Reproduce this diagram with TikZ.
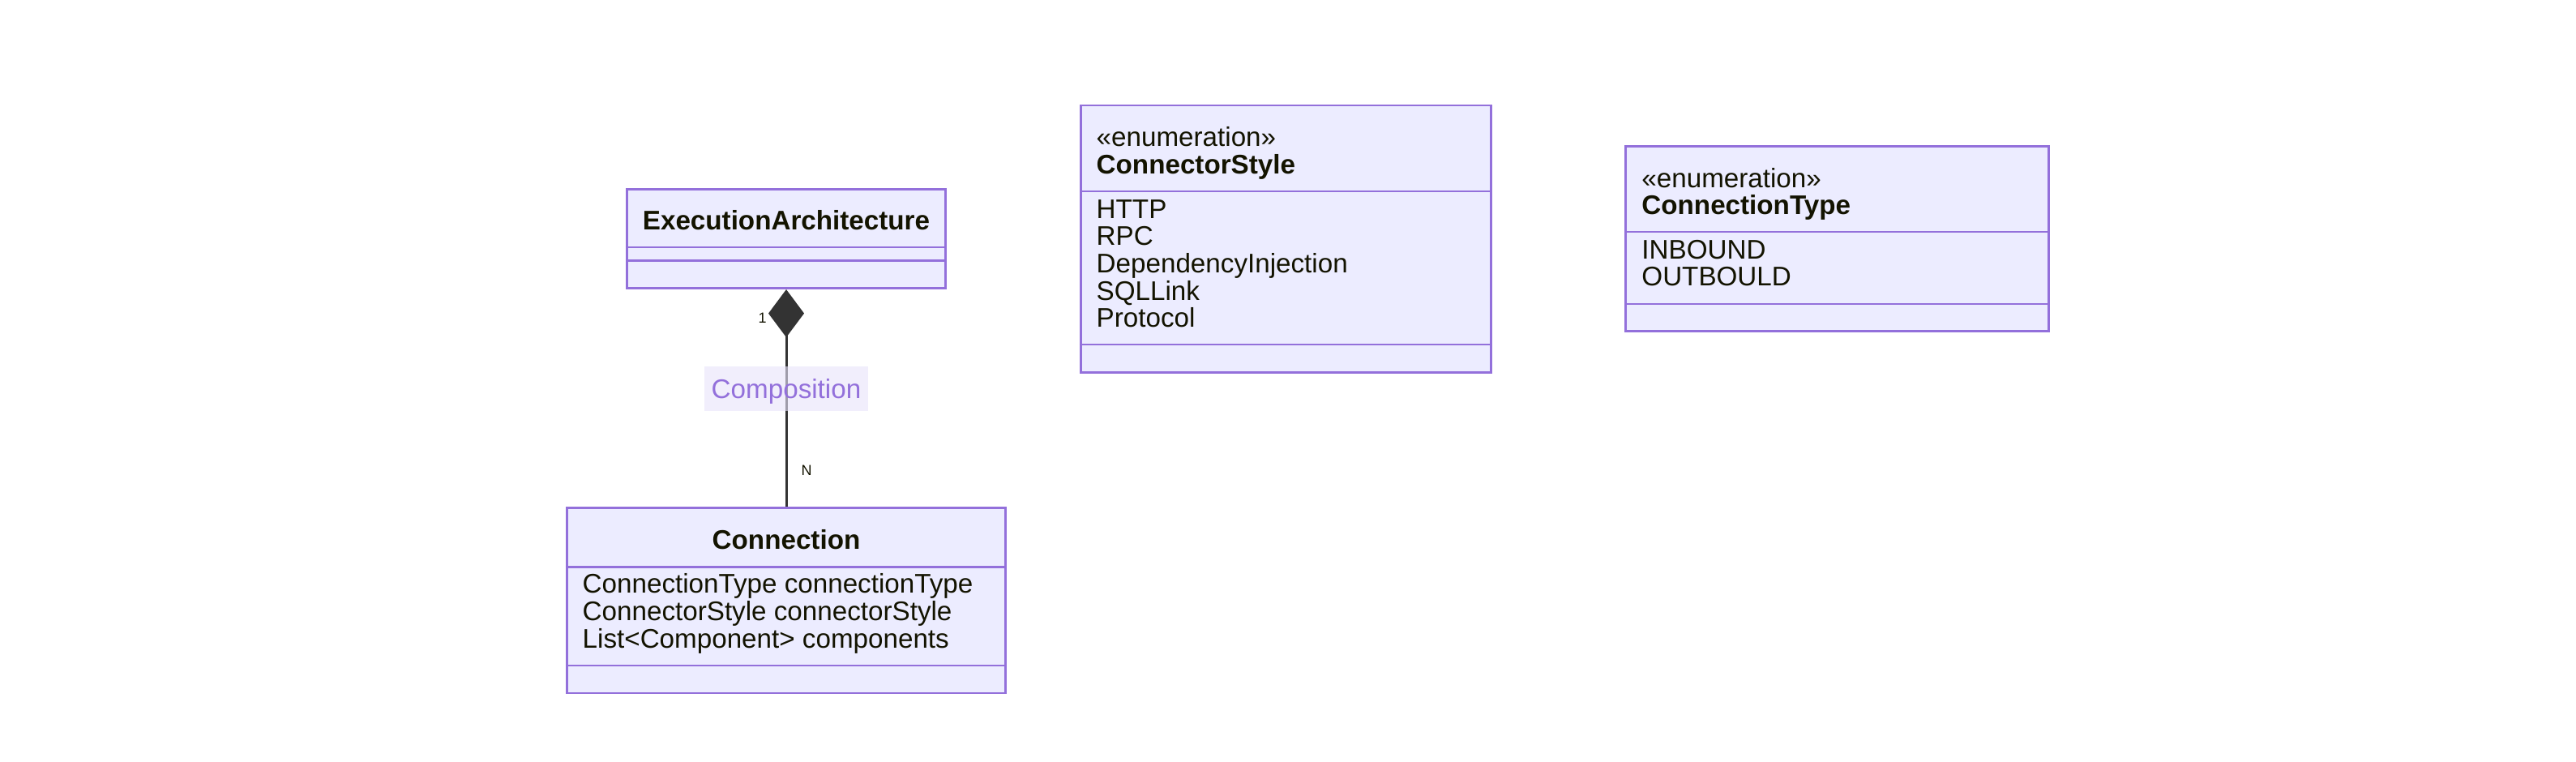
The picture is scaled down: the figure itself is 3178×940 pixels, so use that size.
\documentclass[tikz,border=0pt]{standalone}
\usepackage{fontspec}
\setmainfont{Liberation Sans}
\usetikzlibrary{arrows.meta}
\definecolor{boxfill}{HTML}{ECECFF}
\definecolor{boxline}{HTML}{9370DB}
\definecolor{txt}{HTML}{131300}
\definecolor{edgecol}{HTML}{333333}
\definecolor{lblbg}{HTML}{E8E3FA}
\tikzset{
  classbox/.style={rectangle, draw=boxline, fill=boxfill, line width=1.4pt, inner sep=0pt},
  divider/.style={draw=boxline, line width=1.4pt},
  txtl/.style={anchor=base west, inner sep=0pt, text=txt, font=\fontsize{16.6}{19}\selectfont},
  ttl/.style={anchor=base west, inner sep=0pt, text=txt, font=\fontsize{16.6}{19}\selectfont\bfseries},
  ttlc/.style={anchor=base, inner sep=0pt, text=txt, font=\fontsize{16.6}{19}\selectfont\bfseries},
  mult/.style={inner sep=0pt, text=txt, font=\fontsize{9}{10}\selectfont},
  conn/.style={draw=edgecol, line width=1.5pt, -{Diamond[length=29.5pt,width=22pt,fill=edgecol]}},
  lbl/.style={fill=lblbg, fill opacity=0.6, text opacity=1, text=boxline, inner sep=0pt,
    text height=11.9pt, text depth=0pt,
    minimum width=101pt, minimum height=27.5pt, font=\fontsize{16.6}{19}\selectfont}
}
\begin{document}
\begin{tikzpicture}[x=0.5pt,y=-0.5pt]
\useasboundingbox[fill=white] (0,0) rectangle (3178,940);

% ExecutionArchitecture
\node[classbox, minimum width=196.7pt, minimum height=61.2pt] (ea) at (970,294.5) {};
\draw[divider] (ea.west |- 0,305) -- (ea.east |- 0,305);
\draw[divider] (ea.west |- 0,321.7) -- (ea.east |- 0,321.7);
\node[ttlc] (eat) at (970,283.3) {ExecutionArchitecture};

% Connection
\node[classbox, minimum width=270.7pt, minimum height=114.15pt] (conn) at (970,740.85) {};
\draw[divider] (conn.west |- 0,699.3) -- (conn.east |- 0,699.3);
\draw[divider] (conn.west |- 0,821) -- (conn.east |- 0,821);
\node[ttlc] (connt) at (970,677.3) {Connection};
\node[txtl] (ca1) at (718.3,731.7) {ConnectionType connectionType};
\node[txtl] (ca2) at (718.3,765.4) {ConnectorStyle connectorStyle};
\node[txtl] (ca3) at (718.3,799.1) {List<Component> components};

% ConnectorStyle
\node[classbox, minimum width=253pt, minimum height=164.65pt] (cs) at (1586.3,294.65) {};
\draw[divider] (cs.west |- 0,236) -- (cs.east |- 0,236);
\draw[divider] (cs.west |- 0,425) -- (cs.east |- 0,425);
\node[txtl] (css) at (1352.3,181) {«enumeration»};
\node[ttl] (cst) at (1352.3,214.3) {ConnectorStyle};
\node[txtl] (cs1) at (1352.3,269.3) {HTTP};
\node[txtl] (cs2) at (1352.3,303) {RPC};
\node[txtl] (cs3) at (1352.3,336.7) {DependencyInjection};
\node[txtl] (cs4) at (1352.3,370.4) {SQLLink};
\node[txtl] (cs5) at (1352.3,404) {Protocol};

% ConnectionType
\node[classbox, minimum width=260.8pt, minimum height=113.8pt] (ct) at (2266.5,294.5) {};
\draw[divider] (ct.west |- 0,286) -- (ct.east |- 0,286);
\draw[divider] (ct.west |- 0,375) -- (ct.east |- 0,375);
\node[txtl] (cts) at (2025,231.7) {«enumeration»};
\node[ttl] (ctt) at (2025,265) {ConnectionType};
\node[txtl] (ct1) at (2025,319.3) {INBOUND};
\node[txtl] (ct2) at (2025,352.7) {OUTBOULD};

% Composition connector
\draw[conn] (conn.north) -- node[lbl, pos=0.544] (lab) {Composition} (ea.south);
\node[mult, anchor=base east] (m1) at (946,398.3) {1};
\node[mult, anchor=base west] (mN) at (988.3,586) {N};
\end{tikzpicture}
\end{document}
